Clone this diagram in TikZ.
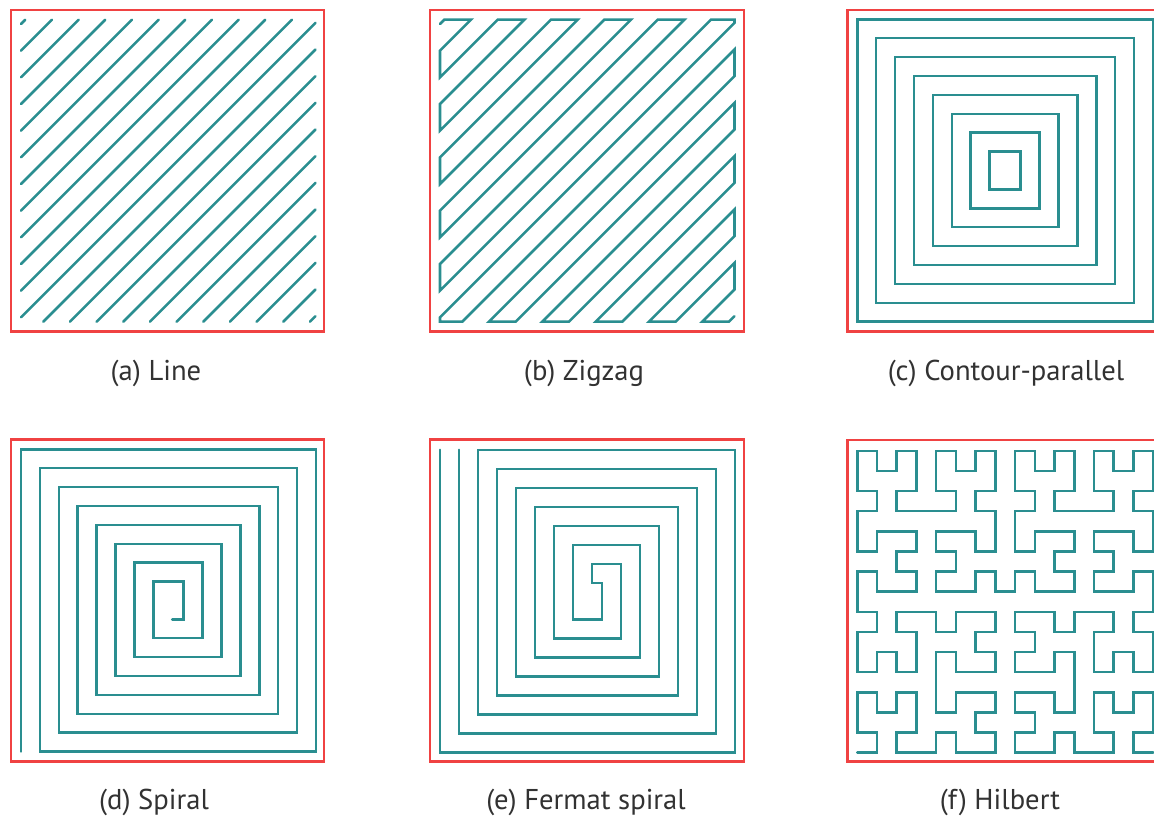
\documentclass[tikz,border=0pt]{standalone}
\usepackage{fontspec}
\setmainfont{PT Sans}
\usetikzlibrary{lindenmayersystems}
\pgfdeclarelindenmayersystem{Hilbert curve}{
  \rule{L -> +RF-LFL-FR+}
  \rule{R -> -LF+RFR+FL-}}
\definecolor{pathteal}{RGB}{42,142,144}
\definecolor{boxred}{RGB}{240,66,66}
\definecolor{labelgray}{RGB}{50,50,50}
\tikzset{
  tealline/.style={draw=pathteal, line width=1.45pt, line cap=round, line join=miter},
  redbox/.style={draw=boxred, line width=1.5pt},
  caption/.style={anchor=base, text=labelgray, font=\fontsize{16.3}{19}\selectfont, inner sep=0pt}
}
\begin{document}
\begin{tikzpicture}[x=0.02cm, y=-0.02cm,
  declare function={
    zc(\k)=24+\k*26.667;
    zax(\c)=max(10,\c-311.7); zay(\c)=\c-zax(\c);
    zbx(\c)=min(304.5,\c-9.7); zby(\c)=\c-zbx(\c);
    cL(\i)=10+18.9*\i; cR(\i)=305.7-18.9*\i; cT(\i)=9.3+18.9*\i; cB(\i)=311.7-18.9*\i;
    sL(\i)=10+18.9*\i; sR(\i)=305-18.9*\i; sT(\i)=10+18.9*\i; sB(\i)=312.3-18.9*\i;
    fL(\i)=10+19*\i; fR(\i)=305-19*\i; fT(\i)=10.5+19*\i; fB(\i)=313-19*\i;
  }]
\clip (0,0) rectangle (1154,818);
\fill[white] (0,0) rectangle (1154,818);

% (a) Line
\begin{scope}[shift={(11,10)}]
  \foreach \k in {0,...,22}
    \draw[tealline] ({zax(zc(\k))},{zay(zc(\k))}) -- ({zbx(zc(\k))},{zby(zc(\k))});
  \draw[redbox] (0,0) rectangle (313,321.7);
\end{scope}

% (b) Zigzag
\begin{scope}[shift={(430,10)}]
  \draw[tealline] ({zax(zc(0))},{zay(zc(0))})
    \foreach \j in {0,...,10} {
      -- ({zbx(zc(2*\j))},{zby(zc(2*\j))})
      -- ({zbx(zc(2*\j+1))},{zby(zc(2*\j))})
      -- ({zbx(zc(2*\j+1))},{zby(zc(2*\j+1))})
      -- ({zax(zc(2*\j+1))},{zay(zc(2*\j+1))})
      -- ({zax(zc(2*\j+1))},{zay(zc(2*\j+2))})
      -- ({zax(zc(2*\j+2))},{zay(zc(2*\j+2))})
    }
    -- ({zbx(zc(22))},{zby(zc(22))});
  \draw[redbox] (0,0) rectangle (314,321.7);
\end{scope}

% (c) Contour-parallel
\begin{scope}[shift={(847.3,10)}]
  \foreach \i in {0,...,7}
    \draw[tealline] ({cL(\i)},{cT(\i)}) rectangle ({cR(\i)},{cB(\i)});
  \draw[redbox] (0,0) rectangle (313,321.7);
\end{scope}

% (d) Spiral
\begin{scope}[shift={(11,439.3)}]
  \draw[tealline] ({sL(0)},{sB(0)})
    \foreach \i in {0,...,7} {
      -- ({sL(\i)},{sT(\i)}) -- ({sR(\i)},{sT(\i)})
      -- ({sR(\i)},{sB(\i)}) -- ({sL(\i+1)},{sB(\i)})
    };
  \draw[redbox] (0,0) rectangle (313,322.4);
\end{scope}

% (e) Fermat spiral
\begin{scope}[shift={(430,439.3)}]
  \draw[tealline] ({fL(0)},{fT(0)})
    \foreach \j in {0,2,4,6} {
      -- ({fL(\j)},{fB(\j)}) -- ({fR(\j)},{fB(\j)})
      -- ({fR(\j)},{fT(\j)}) -- ({fL(\j+2)},{fT(\j)})
    }
    -- ({fL(8)},{fT(7)}) -- ({fR(7)},{fT(7)}) -- ({fR(7)},{fB(7)}) -- ({fL(7)},{fB(7)})
    \foreach \j in {5,3,1} {
      -- ({fL(\j+2)},{fT(\j)}) -- ({fR(\j)},{fT(\j)})
      -- ({fR(\j)},{fB(\j)}) -- ({fL(\j)},{fB(\j)})
    }
    -- ({fL(1)},{fT(0)});
  \draw[redbox] (0,0) rectangle (314,322.4);
\end{scope}

% (f) Hilbert
\begin{scope}[shift={(857.3,752.7)}, yscale=1.0203]
  \draw[tealline] (0,0) [l-system={Hilbert curve, axiom=L, order=4, step=0.3946cm, angle=90}] lindenmayer system;
\end{scope}
\begin{scope}[shift={(847.3,440)}]
  \draw[redbox] (0,0) rectangle (313,321.7);
\end{scope}

% captions
\node[caption] (la) at (156,380.6) {(a) Line};
\node[caption] (lb) at (584,380.6) {(b) Zigzag};
\node[caption] (lc) at (1006,380.6) {(c) Contour-parallel};
\node[caption] (ld) at (154,809.2) {(d) Spiral};
\node[caption] (le) at (586,809.2) {(e) Fermat spiral};
\node[caption] (lf) at (1000,809.2) {(f) Hilbert};
\end{tikzpicture}
\end{document}
